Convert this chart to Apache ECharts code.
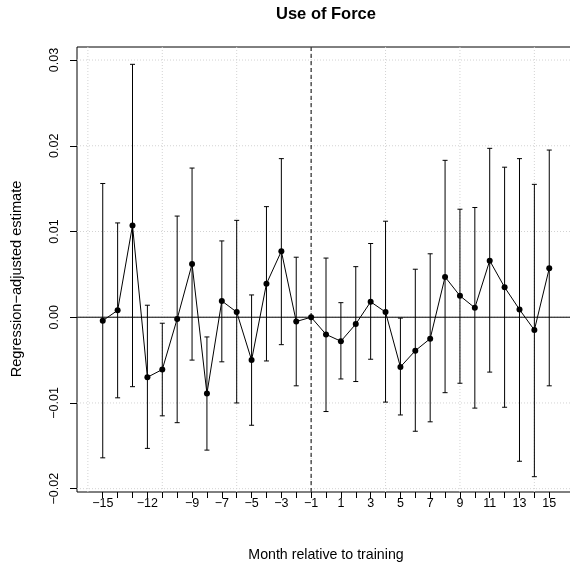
<!DOCTYPE html>
<html>
<head>
<meta charset="utf-8">
<script src="https://cdn.jsdelivr.net/npm/echarts@6/dist/echarts.min.js"></script>
<style>
html,body{margin:0;padding:0;background:#fff;}
#chart{width:570px;height:566px;}
</style>
</head>
<body>
<div id="chart"></div>
<script>
// ---- data ----
var months = [-15,-14,-13,-12,-11,-10,-9,-8,-7,-6,-5,-4,-3,-2,-1,0,1,2,3,4,5,6,7,8,9,10,11,12,13,14,15];
var estimate = [-0.0004,0.0008,0.0107,-0.0070,-0.0061,-0.0002,0.0062,-0.0089,0.0019,0.0006,-0.0050,0.0039,0.0077,-0.0005,0,-0.0020,-0.0028,-0.0008,0.0018,0.0006,-0.0058,-0.0039,-0.0025,0.0047,0.0025,0.0011,0.0066,0.0035,0.0009,-0.0015,0.0057];
var upper = [0.0156,0.0110,0.0295,0.0014,-0.0007,0.0118,0.0174,-0.0023,0.0089,0.0113,0.0026,0.0129,0.0185,0.0070,null,0.0069,0.0017,0.0059,0.0086,0.0112,-0.0001,0.0056,0.0074,0.0183,0.0126,0.0128,0.0197,0.0175,0.0185,0.0155,0.0195];
var lower = [-0.0164,-0.0094,-0.0081,-0.0153,-0.0115,-0.0123,-0.0050,-0.0155,-0.0052,-0.0100,-0.0126,-0.0051,-0.0032,-0.0080,null,-0.0110,-0.0072,-0.0075,-0.0049,-0.0099,-0.0114,-0.0133,-0.0122,-0.0088,-0.0077,-0.0106,-0.0064,-0.0105,-0.0168,-0.0186,-0.0080];
var xTicks = [-15,-14,-13,-12,-11,-10,-9,-8,-7,-6,-5,-4,-3,-2,-1,0,1,2,3,4,5,6,7,8,9,10,11,12,13,14,15];
var xTickLabels = [-15,-12,-9,-7,-5,-3,-1,1,3,5,7,9,11,13,15];
var yTicks = [-0.02,-0.01,0,0.01,0.02,0.03];
var gridX = [-16,-11,-6,-1,4,9,14];
var gridY = [-0.02,-0.01,0,0.01,0.02,0.03];
var refX = [-1];
var refY = [0];

var FONT = 'Liberation Sans, Arial, Helvetica, sans-serif';
function fmtNum(v, d){ var s = Math.abs(v).toFixed(d); return (v < -1e-12 ? '\u2212' : '') + s; }

var pointData = months.map(function(m,i){ return [m, estimate[i]]; });
var ciData = [];
months.forEach(function(m,i){ if (upper[i] !== null && lower[i] !== null) ciData.push([m, lower[i], upper[i]]); });

var chart = echarts.init(document.getElementById('chart'), null, {renderer:'canvas'});
chart.setOption({
  animation: false,
  backgroundColor: '#fff',
  title: {
    text: 'Use of Force',
    left: 321, top: 1, textAlign: 'center',
    textStyle: {fontFamily: FONT, fontWeight: 'bold', fontSize: 16.5, color: '#000'}
  },
  grid: {left: 77, width: 498, top: 47, bottom: 74, containLabel: false, outerBoundsMode: 'none',
    show: true, borderColor: '#000', borderWidth: 1, backgroundColor: 'transparent'},
  xAxis: {
    type: 'value', min: -16.73, max: 16.73,
    name: 'Month relative to training', nameLocation: 'middle', nameGap: 56,
    nameTextStyle: {fontFamily: FONT, fontSize: 14.2, color: '#000'},
    axisLine: {show: false, onZero: false},
    axisTick: {show: true, customValues: xTicks, length: 6, lineStyle: {color: '#000'}},
    axisLabel: {customValues: xTickLabels, margin: 5, fontFamily: FONT, fontSize: 12.5, color: '#000',
      formatter: function(v){ return fmtNum(v, 0); }},
    splitLine: {show: false}
  },
  yAxis: {
    type: 'value', min: -0.020385, max: 0.03152,
    axisLine: {show: false, onZero: false},
    axisTick: {show: true, customValues: yTicks, length: 7, lineStyle: {color: '#000'}},
    axisLabel: {customValues: yTicks, rotate: 90, margin: 16, fontFamily: FONT, fontSize: 12.5, color: '#000',
      formatter: function(v){ return fmtNum(v, 2); }},
    splitLine: {show: false}
  },
  graphic: [{
    type: 'text', x: 17, y: 279, rotation: Math.PI/2,
    style: {text: 'Regression\u2212adjusted estimate', fontFamily: FONT, fontSize: 14.6, fill: '#000', textAlign: 'center', textVerticalAlign: 'middle'}
  }],
  series: [
    {
      type: 'custom', name: 'gridX', z: 1, silent: true, data: gridX.map(function(v){return [v];}),
      encode: {x: 0},
      renderItem: function(params, api){
        var cs = params.coordSys; var p = api.coord([api.value(0), 0]);
        return {type:'line', shape:{x1:p[0], y1:cs.y, x2:p[0], y2:cs.y+cs.height},
          style:{stroke:'#d3d3d3', lineWidth:1, lineDash:[1,2]}};
      }
    },
    {
      type: 'custom', name: 'gridY', z: 1, silent: true, data: gridY.map(function(v){return [0, v];}),
      encode: {y: 1},
      renderItem: function(params, api){
        var cs = params.coordSys; var p = api.coord([0, api.value(1)]);
        return {type:'line', shape:{x1:cs.x, y1:p[1], x2:cs.x+cs.width, y2:p[1]},
          style:{stroke:'#d3d3d3', lineWidth:1, lineDash:[1,2]}};
      }
    },
    {
      type: 'custom', name: 'refX', z: 2, silent: true, data: refX.map(function(v){return [v];}),
      encode: {x: 0},
      renderItem: function(params, api){
        var cs = params.coordSys; var p = api.coord([api.value(0), 0]);
        return {type:'line', shape:{x1:p[0], y1:cs.y, x2:p[0], y2:cs.y+cs.height},
          style:{stroke:'#000', lineWidth:1, lineDash:[4,3]}};
      }
    },
    {
      type: 'custom', name: 'refY', z: 2, silent: true, data: refY.map(function(v){return [0, v];}),
      encode: {y: 1},
      renderItem: function(params, api){
        var cs = params.coordSys; var p = api.coord([0, api.value(1)]);
        return {type:'line', shape:{x1:cs.x, y1:p[1], x2:cs.x+cs.width, y2:p[1]},
          style:{stroke:'#000', lineWidth:1}};
      }
    },
    {
      type: 'custom', name: 'CI', z: 3, silent: true, data: ciData,
      encode: {x: 0, y: [1, 2]},
      renderItem: function(params, api){
        var x = api.value(0);
        var pl = api.coord([x, api.value(1)]);
        var ph = api.coord([x, api.value(2)]);
        var hw = 2.5;
        var st = {stroke:'#000', lineWidth:1};
        return {type:'group', children:[
          {type:'line', shape:{x1:pl[0], y1:pl[1], x2:ph[0], y2:ph[1]}, style:st},
          {type:'line', shape:{x1:ph[0]-hw, y1:ph[1], x2:ph[0]+hw, y2:ph[1]}, style:st},
          {type:'line', shape:{x1:pl[0]-hw, y1:pl[1], x2:pl[0]+hw, y2:pl[1]}, style:st}
        ]};
      }
    },
    {
      type: 'line', name: 'Estimate', z: 4, data: pointData,
      symbol: 'circle', symbolSize: 6, showSymbol: true,
      lineStyle: {color: '#000', width: 1},
      itemStyle: {color: '#000', borderWidth: 0}
    }
  ]
});
</script>
</body>
</html>
